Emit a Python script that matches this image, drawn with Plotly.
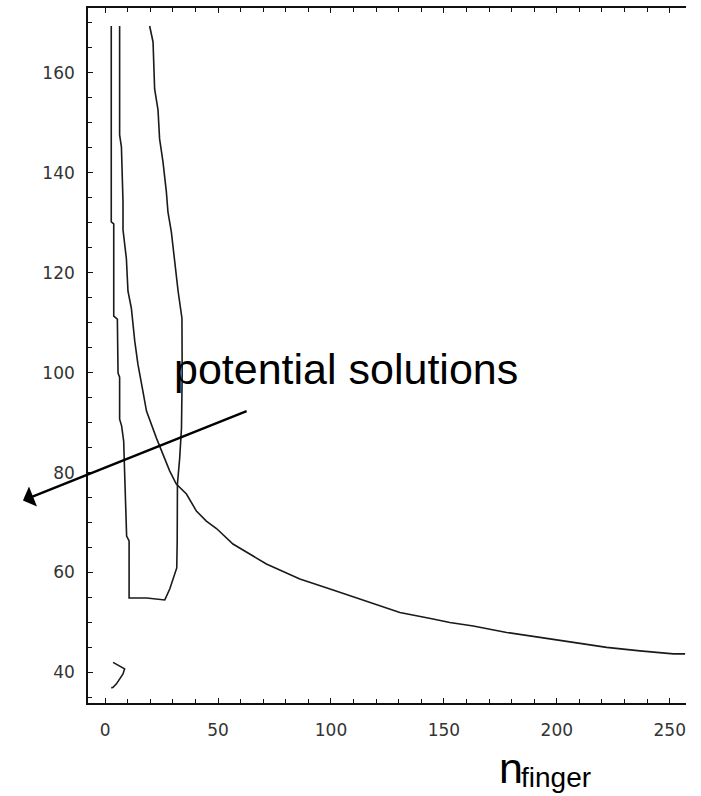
import plotly.graph_objects as go

# Closed feasibility boundary (left edge down, bottom, right edge back up)
boundary_n = [2.7, 2.7, 3.8, 3.8, 5.4, 5.7, 6.4, 6.4, 7.3, 8.2, 8.6, 9.1, 9.5,
              10.6, 10.6, 18.4, 26.4, 28.6, 29.5, 30.8, 31.7, 31.9, 32.0, 33.0,
              33.8, 34.1, 34.0, 32.3, 30.8, 29.3, 27.8, 27.1, 25.6, 24.1, 23.4,
              21.9, 21.2, 19.7]
boundary_v = [169.4, 130.2, 129.8, 111.3, 110.7, 99.9, 99.1, 90.7, 89.3, 86.3,
              80.3, 70.3, 67.3, 66.3, 54.9, 54.9, 54.5, 56.7, 57.9, 59.3, 60.9,
              66.3, 77.7, 82.9, 88.9, 99.7, 110.9, 116.3, 122.8, 128.2, 132.2,
              136.2, 142.2, 146.8, 152.6, 156.8, 166.2, 169.4]

# Decaying contour
decay_n = [6.4, 6.4, 7.2, 7.9, 7.9, 9.4, 10.1, 11.6, 13.1, 14.5, 16.7, 18.3,
           22.7, 25.6, 28.6, 31.5, 36.0, 40.4, 44.8, 49.3, 56.6, 71.4, 86.2,
           100.9, 115.7, 130.5, 145.2, 152.6, 163.0, 177.8, 192.5, 207.3,
           222.1, 236.8, 251.6, 256.8]
decay_v = [169.4, 147.6, 145.2, 134.2, 128.6, 122.8, 116.3, 112.9, 106.3,
           101.7, 96.3, 92.3, 86.9, 83.7, 80.3, 77.7, 75.7, 72.3, 70.3, 68.8,
           65.7, 61.7, 58.7, 56.5, 54.3, 52.0, 50.7, 50.0, 49.3, 48.0, 47.0,
           46.0, 45.0, 44.3, 43.7, 43.7]

# Small contour fragment near the bottom-left corner
frag_n = [3.5, 5.7, 8.6, 7.9, 6.4, 5.0, 3.5, 2.7]
frag_v = [42.0, 41.5, 40.7, 39.7, 38.7, 37.7, 37.0, 36.9]

x_range = [-7.6, 257.2]
y_range = [33.87, 173.0]

line_style = dict(color="#1a1a1a", width=1.6)

fig = go.Figure()
for xs, ys in [(boundary_n, boundary_v), (decay_n, decay_v), (frag_n, frag_v)]:
    fig.add_trace(go.Scatter(x=xs, y=ys, mode="lines", line=line_style,
                             hoverinfo="skip", showlegend=False))

tick_font = dict(family="DejaVu Sans", size=17, color="#333333")

fig.update_xaxes(
    range=x_range, tick0=0, dtick=50, ticks="inside", ticklen=5,
    tickcolor="#111111", tickwidth=1.2, showline=True, linecolor="#111111",
    linewidth=1.6, mirror="ticks", showgrid=False, zeroline=False,
    tickfont=tick_font, ticklabelstandoff=11,
    minor=dict(dtick=10, ticks="inside", ticklen=4, tickcolor="#111111",
               tickwidth=1.2, showgrid=False),
)
fig.update_yaxes(
    range=y_range, tick0=0, dtick=20, ticks="inside", ticklen=5,
    tickcolor="#111111", tickwidth=1.2, showline=True, linecolor="#111111",
    linewidth=1.6, mirror=False, showgrid=False, zeroline=False,
    tickfont=tick_font, ticklabelstandoff=8,
    minor=dict(dtick=5, ticks="inside", ticklen=4, tickcolor="#111111",
               tickwidth=1.2, showgrid=False),
)

fig.add_annotation(
    x=29.5, y=100.8, xref="x", yref="y", xanchor="left", yanchor="middle",
    text="potential solutions", showarrow=False,
    font=dict(family="Liberation Sans", size=43, color="#000000"),
)

fig.add_annotation(
    x=-36.4, y=74.4, xref="x", yref="y",
    ax=63.3, ay=92.4, axref="x", ayref="y",
    text="", showarrow=True, arrowhead=1, arrowsize=1.5, arrowwidth=2.4,
    arrowcolor="#000000",
)

# Axis label n_finger: main letter and its subscript
fig.add_annotation(
    x=173.5, y=-0.056, xref="x", yref="paper", xanchor="left", yanchor="top",
    text="n", showarrow=False,
    font=dict(family="Liberation Sans", size=43, color="#000000"),
)
fig.add_annotation(
    x=183.3, y=-0.0822, xref="x", yref="paper", xanchor="left", yanchor="top",
    text="finger", showarrow=False,
    font=dict(family="Liberation Sans", size=28, color="#000000"),
)

# The frame is cut off on the right-hand side
fig.add_shape(type="rect", xref="paper", yref="paper", x0=1.0, x1=1.1,
              y0=-0.2, y1=1.02, fillcolor="white", line=dict(width=0),
              layer="above")

fig.update_layout(
    width=701, height=796, autosize=False,
    margin=dict(l=88, r=15, t=6, b=93),
    paper_bgcolor="white", plot_bgcolor="white",
    showlegend=False,
)

fig.write_html("out.html")
